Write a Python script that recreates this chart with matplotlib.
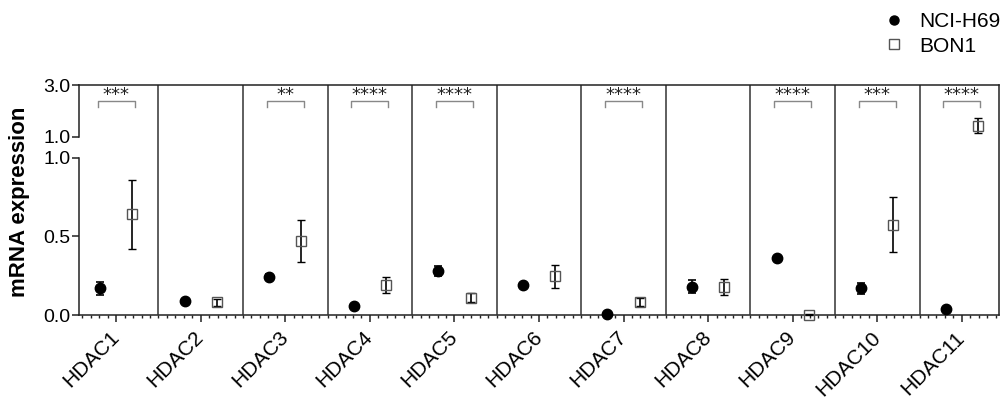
import numpy as np
import matplotlib
matplotlib.use('Agg')
import matplotlib.pyplot as plt
from matplotlib.lines import Line2D
from matplotlib.ticker import MultipleLocator

plt.rcParams['font.family'] = ['Liberation Sans', 'DejaVu Sans']

genes = ['HDAC1', 'HDAC2', 'HDAC3', 'HDAC4', 'HDAC5', 'HDAC6',
         'HDAC7', 'HDAC8', 'HDAC9', 'HDAC10', 'HDAC11']
nci_mean = [0.17, 0.09, 0.24, 0.06, 0.28, 0.19, 0.005, 0.18, 0.36, 0.17, 0.035]
nci_err = [0.04, 0.01, 0.02, 0.008, 0.034, 0.01, 0.005, 0.042, 0.01, 0.035, 0.008]
bon_mean = [0.64, 0.08, 0.47, 0.19, 0.11, 0.245, 0.08, 0.18, 0.002, 0.575, 1.43]
bon_err = [0.22, 0.02, 0.135, 0.053, 0.03, 0.072, 0.025, 0.05, 0.002, 0.177, 0.29]
signif = ['***', '', '**', '****', '****', '', '****', '', '****', '***', '****']

x = np.arange(len(genes))
off = 0.19
xlim = (-0.44, 10.44)

fig = plt.figure(figsize=(10.03, 3.99), dpi=100)
L, W = 79 / 1003, 920 / 1003
ax_lo = fig.add_axes([L, 84 / 399, W, 157.3 / 399])
ax_hi = fig.add_axes([L, 262.3 / 399, W, 51.7 / 399])
ax_box = fig.add_axes([L, 84 / 399, W, 230 / 399])
ax_box.patch.set_visible(False)

lc = '#222222'
for ax in (ax_lo, ax_hi, ax_box):
    ax.set_xlim(*xlim)
    for s in ax.spines.values():
        s.set_visible(False)
        s.set_linewidth(1.1)
        s.set_color(lc)

ax_lo.set_ylim(0, 1.0)
ax_hi.set_ylim(1.0, 3.0)

# panel frame: top line, right line and separators
ax_box.set_ylim(0, 1)
ax_box.set_xticks([])
ax_box.set_yticks([])
ax_box.spines['top'].set_visible(True)
ax_box.spines['right'].set_visible(True)
for b in x[:-1] + 0.5:
    ax_box.axvline(b, color='#333333', lw=1.1)

ax_lo.spines['left'].set_visible(True)
ax_lo.spines['bottom'].set_visible(True)
ax_hi.spines['left'].set_visible(True)

ax_lo.set_yticks([0.0, 0.5, 1.0])
ax_lo.set_yticklabels(['0.0', '0.5', '1.0'])
ax_hi.set_yticks([1.0, 3.0])
ax_hi.set_yticklabels(['1.0', '3.0'])
for ax in (ax_lo, ax_hi):
    ax.tick_params(axis='y', length=5, width=1.1, pad=1, labelsize=14, color=lc)
ax_hi.set_xticks([])

ax_lo.set_xticks(x)
ax_lo.set_xticklabels(genes, rotation=45, ha='right', va='center',
                      rotation_mode='anchor', fontsize=15)
ax_lo.xaxis.set_minor_locator(MultipleLocator(0.1))
ax_lo.tick_params(axis='x', which='major', length=5, width=1.1, pad=9, color=lc)
ax_lo.tick_params(axis='x', which='minor', length=2, width=1.0, color=lc)

ax_lo.set_ylabel('mRNA expression', fontsize=16, fontweight='bold')
ax_lo.yaxis.set_label_coords(-0.053, 0.72)

def draw(xs, ys, es, **kw):
    for xi, yi, ei in zip(xs, ys, es):
        ax = ax_hi if yi > 1.0 else ax_lo
        ax.errorbar(xi, yi, yerr=ei, capsize=3.2, ecolor='black', elinewidth=1.2,
                    capthick=1.2, linestyle='none', clip_on=False, zorder=3, **kw)

draw(x - off, nci_mean, nci_err, marker='o', ms=7.5, mfc='black', mec='black')
draw(x + off, bon_mean, bon_err, marker='s', ms=7, mfc='none', mec='#555555', mew=1.0)

# significance brackets
bo = off + 0.03
for xi, s in zip(x, signif):
    if not s:
        continue
    ax_hi.plot([xi - bo, xi - bo, xi + bo, xi + bo], [2.15, 2.39, 2.39, 2.15],
               color='#888888', lw=1.0, clip_on=False)
    ax_hi.text(xi, 2.62, s, ha='center', va='center', fontsize=13,
               family='DejaVu Sans', color='#222222')

handles = [Line2D([], [], marker='o', ls='none', mfc='black', mec='black', ms=6.5),
           Line2D([], [], marker='s', ls='none', mfc='none', mec='#555555', ms=6.5, mew=1.0)]
fig.legend(handles, ['NCI-H69', 'BON1'], loc='upper right', bbox_to_anchor=(1.008, 0.995),
           frameon=False, fontsize=15, handletextpad=0.7, labelspacing=0.25,
           handlelength=1.0, borderaxespad=0.1)

fig.savefig('out.png', dpi=100)
